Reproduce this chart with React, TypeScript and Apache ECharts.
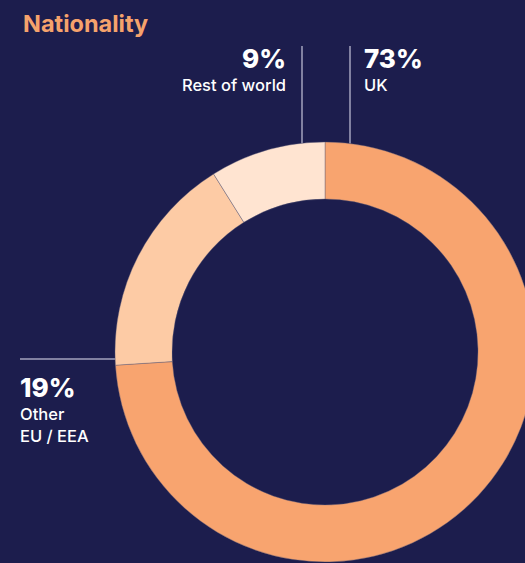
import React, { useEffect, useRef } from "react";
import * as echarts from "echarts";

const categories = ["UK", "Other\nEU / EEA", "Rest of world"];
const sliceValues = [74, 17.1, 8.9];
const percentLabels = ["73%", "19%", "9%"];
const sliceColors = ["#F8A46F", "#FDCBA5", "#FFE4D1"];

const BG = "#1C1D4D";
const CX = 325;
const CY = 352;
const R_OUT = 210;
const R_IN = 153;
const LINE = "#A3A3BE";

export default function App() {
  const ref = useRef<HTMLDivElement>(null);
  useEffect(() => {
    if (!ref.current) return;
    const chart = echarts.init(ref.current, null, { renderer: "svg" });
    const font = "Inter, 'Noto Sans', sans-serif";
    const edgeY = (x: number) => CY - Math.sqrt(R_OUT * R_OUT - (CX - x) * (CX - x));
    const edgeX = (y: number) => CX - Math.sqrt(R_OUT * R_OUT - (CY - y) * (CY - y));
    const bigText = (text: string, x: number, y: number, align: string) => ({
      type: "text",
      x,
      y,
      style: { text, fill: "#FFFFFF", font: `800 26px ${font}`, align, verticalAlign: "middle" },
    });
    const smallText = (text: string, x: number, y: number, align: string) => ({
      type: "text",
      x,
      y,
      style: { text, fill: "#FFFFFF", font: `500 16.5px ${font}`, align, verticalAlign: "middle" },
    });
    const otherLines = categories[1].split("\n");
    chart.setOption({
      animation: false,
      backgroundColor: BG,
      series: [
        {
          type: "pie",
          center: [CX, CY],
          radius: [R_IN, R_OUT],
          startAngle: 90,
          clockwise: true,
          label: { show: false },
          labelLine: { show: false },
          emphasis: { disabled: true },
          itemStyle: { borderColor: "rgba(90,90,120,0.5)", borderWidth: 0.8 },
          data: categories.map((c, i) => ({
            name: c,
            value: sliceValues[i],
            itemStyle: { color: sliceColors[i] },
          })),
        },
      ],
      graphic: [
        {
          type: "text",
          x: 23,
          y: 23,
          style: { text: "Nationality", fill: "#F5A26C", font: `700 23.5px ${font}`, align: "left", verticalAlign: "middle" },
        },
        { type: "line", shape: { x1: 302, y1: 46, x2: 302, y2: edgeY(302) }, style: { stroke: LINE, lineWidth: 1.5 } },
        { type: "line", shape: { x1: 350, y1: 46, x2: 350, y2: edgeY(350) }, style: { stroke: LINE, lineWidth: 1.5 } },
        { type: "line", shape: { x1: 20, y1: 359, x2: edgeX(359), y2: 359 }, style: { stroke: LINE, lineWidth: 1.5 } },
        bigText(percentLabels[2], 286, 58, "right"),
        smallText(categories[2], 286, 84.5, "right"),
        bigText(percentLabels[0], 364, 58, "left"),
        smallText(categories[0], 364, 84.5, "left"),
        bigText(percentLabels[1], 20, 387, "left"),
        smallText(otherLines[0], 20, 414, "left"),
        smallText(otherLines[1], 20, 436, "left"),
      ],
    });
    return () => chart.dispose();
  }, []);
  return (
    <div
      ref={ref}
      style={{ position: "fixed", left: 0, top: 0, width: 525, height: 563 }}
    />
  );
}
